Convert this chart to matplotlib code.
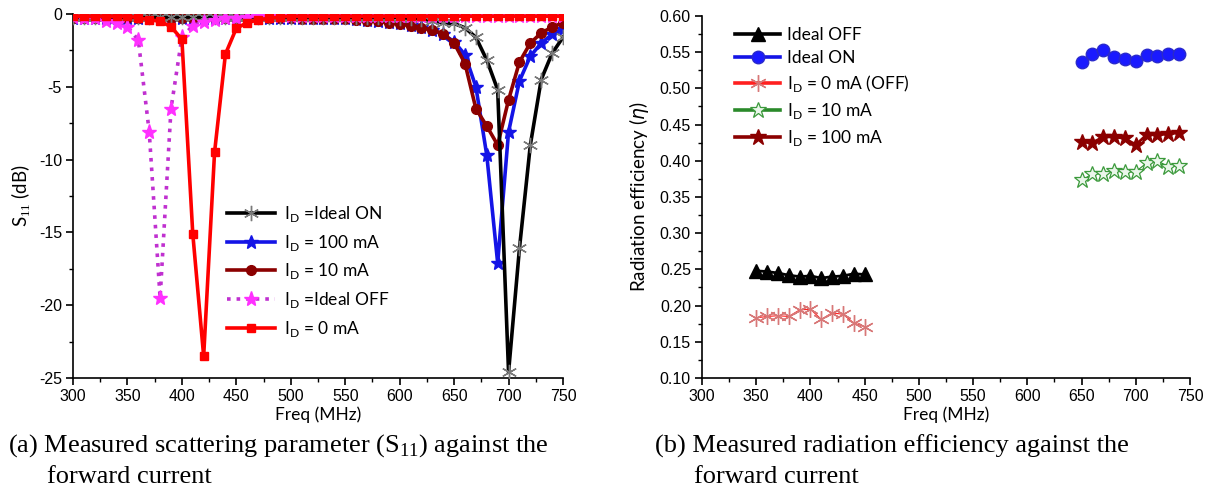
import numpy as np
import matplotlib.pyplot as plt
from matplotlib.ticker import MultipleLocator, FormatStrFormatter

plt.rcParams['font.family'] = 'Liberation Sans'
plt.rcParams['axes.unicode_minus'] = False
plt.rcParams['mathtext.fontset'] = 'custom'
plt.rcParams['mathtext.rm'] = 'Liberation Serif'

# --- (a) S11 vs frecuencia ---
freq = np.arange(300, 760, 10)

s11_ideal_on = [-0.2] * 29 + [-0.22, -0.25, -0.3, -0.35, -0.45, -0.6, -0.65, -0.95, -1.6, -3.16,
                              -5.2, -24.6, -16.1, -9.0, -4.5, -2.7, -1.6]
s11_100ma = [-0.3] * 26 + [-0.35, -0.4, -0.45, -0.55, -0.65, -0.75, -0.9, -1.1, -1.4, -1.9, -2.8,
                           -5.0, -9.7, -17.1, -8.1, -4.6, -2.9, -2.0, -1.4, -1.0]
s11_10ma = [-0.3] * 21 + [-0.35] * 5 + [-0.4, -0.45, -0.5, -0.6, -0.7, -0.8, -0.95, -1.1, -1.35,
                                        -2.0, -3.4, -6.5, -7.7, -9.0, -5.9, -3.3, -2.0, -1.3, -0.9, -0.6]
s11_ideal_off = [-0.2, -0.25, -0.3, -0.45, -0.64, -0.87, -1.8, -8.1, -19.5, -6.5, -1.6, -0.8,
                 -0.55, -0.4, -0.3, -0.25, -0.2] + [-0.15] * 29
s11_0ma = [-0.15] * 6 + [-0.25, -0.4, -0.5, -0.87, -1.74, -15.1, -23.5, -9.5, -2.75, -0.98, -0.6,
                         -0.4, -0.3, -0.2] + [-0.15] * 26

# --- (b) eficiencia de radiación ---
freq_off = np.arange(350, 460, 10)
freq_on = np.arange(650, 750, 10)
eff_ideal_off = [0.248, 0.247, 0.245, 0.242, 0.240, 0.241, 0.238, 0.240, 0.241, 0.244, 0.243]
eff_ideal_on = [0.536, 0.547, 0.553, 0.543, 0.540, 0.538, 0.546, 0.545, 0.547, 0.548]
eff_0ma = [0.183, 0.185, 0.186, 0.185, 0.194, 0.195, 0.181, 0.190, 0.188, 0.176, 0.171]
eff_10ma = [0.373, 0.382, 0.382, 0.386, 0.384, 0.385, 0.397, 0.400, 0.392, 0.393]
eff_100ma = [0.426, 0.425, 0.433, 0.433, 0.431, 0.422, 0.436, 0.436, 0.437, 0.439]

W, H = 1211, 504
fig = plt.figure(figsize=(W / 100, H / 100), dpi=100)
ax1 = fig.add_axes([73 / W, 1 - 378 / H, 490 / W, 364 / H])
ax2 = fig.add_axes([702 / W, 1 - 378 / H, 488 / W, 362 / H])

label_font = dict(family='Lato', size=12.5)
asterisk = (6, 2, 0)

def id_label(txt):
    return r'I$_\mathregular{D}$' + txt

# panel (a)
ax1.plot(freq, s11_100ma, color='#1414e6', lw=2.6, marker='*', ms=10, zorder=3,
         label=id_label(' = 100 mA'))
ax1.plot(freq, s11_10ma, color='#8b0000', lw=2.6, marker='o', ms=7, zorder=3,
         label=id_label(' = 10 mA'))
ax1.plot(freq, s11_ideal_on, color='black', lw=2.6, marker=asterisk, ms=11, mec='#7a7a7a',
         mew=1.0, zorder=4, label=id_label(' =Ideal ON'))
ax1.plot(freq, s11_ideal_off, color='#c030d0', lw=2.6, ls=':', marker='*', ms=11, mfc='#ff30ff',
         mec='#ff30ff', zorder=5, label=id_label(' =Ideal OFF'))
ax1.plot(freq, s11_0ma, color='#ff0000', lw=2.6, marker='s', ms=6, zorder=6,
         label=id_label(' = 0 mA'))

ax1.set_xlim(300, 750)
ax1.set_ylim(-25, 0)
ax1.xaxis.set_major_locator(MultipleLocator(50))
ax1.xaxis.set_minor_locator(MultipleLocator(25))
ax1.yaxis.set_major_locator(MultipleLocator(5))
ax1.yaxis.set_minor_locator(MultipleLocator(2.5))
ax1.set_xlabel('Freq (MHz)', fontdict=label_font, labelpad=2)
ax1.set_ylabel(r'S$_{11}$ (dB)', fontdict=dict(family='Lato', size=13.5), labelpad=4)

h, l = ax1.get_legend_handles_labels()
orden = [2, 0, 1, 3, 4]
ax1.legend([h[i] for i in orden], [l[i] for i in orden], loc='upper left',
           bbox_to_anchor=(0.314, 0.478), frameon=False, prop=dict(family='Lato', size=12.5),
           handlelength=2.75, handletextpad=0.55, labelspacing=0.5, borderpad=0, borderaxespad=0)

# panel (b)
ax2.plot(freq_off, eff_ideal_off, color='black', lw=2, marker='^', ms=10, label='Ideal OFF')
ax2.plot(freq_on, eff_ideal_on, color='#1414e6', lw=2, marker='o', ms=9, mfc='#1a1aff',
         mec='#2a2acc', label='Ideal ON')
ax2.plot(freq_off, eff_0ma, color='#ff2020', lw=0.8, marker=asterisk, ms=12, mec='#d87878',
         mew=1.0, label=id_label(' = 0 mA (OFF)'))
ax2.plot(freq_on, eff_10ma, color='#2a8a2a', lw=0.8, marker='*', ms=12, mfc='#eaf6ea',
         mec='#3c9a3c', mew=0.9, label=id_label(' = 10 mA'))
ax2.plot(freq_on, eff_100ma, color='#8b0000', lw=2, marker='*', ms=12, label=id_label(' = 100 mA'))

ax2.set_xlim(300, 750)
ax2.set_ylim(0.10, 0.60)
ax2.xaxis.set_major_locator(MultipleLocator(50))
ax2.xaxis.set_minor_locator(MultipleLocator(25))
ax2.yaxis.set_major_locator(MultipleLocator(0.05))
ax2.yaxis.set_minor_locator(MultipleLocator(0.025))
ax2.yaxis.set_major_formatter(FormatStrFormatter('%.2f'))
ax2.set_xlabel('Freq (MHz)', fontdict=label_font, labelpad=2)
ax2.set_ylabel(r'Radiation efficiency ($\eta$)', fontdict=dict(family='Lato', size=13.5),
               labelpad=6)

leg2 = ax2.legend(loc='upper left', bbox_to_anchor=(0.068, 0.97), frameon=False,
                  prop=dict(family='Lato', size=12.5), handlelength=2.6, handletextpad=0.4,
                  labelspacing=0.4, borderpad=0, borderaxespad=0)
for ln in leg2.get_lines():
    ln.set_linewidth(2.6)

for ax in (ax1, ax2):
    for lado in ('top', 'right'):
        ax.spines[lado].set_visible(False)
    for lado in ('left', 'bottom'):
        ax.spines[lado].set_linewidth(1.2)
    ax.tick_params(which='major', direction='out', length=5, width=1.2, labelsize=11.5, pad=3)
    ax.tick_params(which='minor', direction='out', length=3, width=1.0)

# pies de figura
cap = dict(family='Liberation Serif', size=19, va='center', ha='left')
fig.text(8 / W, 1 - 446 / H, r'(a) Measured scattering parameter (S$_{11}$) against the', **cap)
fig.text(47 / W, 1 - 477 / H, 'forward current', **cap)
fig.text(655 / W, 1 - 446 / H, '(b) Measured radiation efficiency against the', **cap)
fig.text(694 / W, 1 - 477 / H, 'forward current', **cap)

fig.savefig('out.png', dpi=100)
